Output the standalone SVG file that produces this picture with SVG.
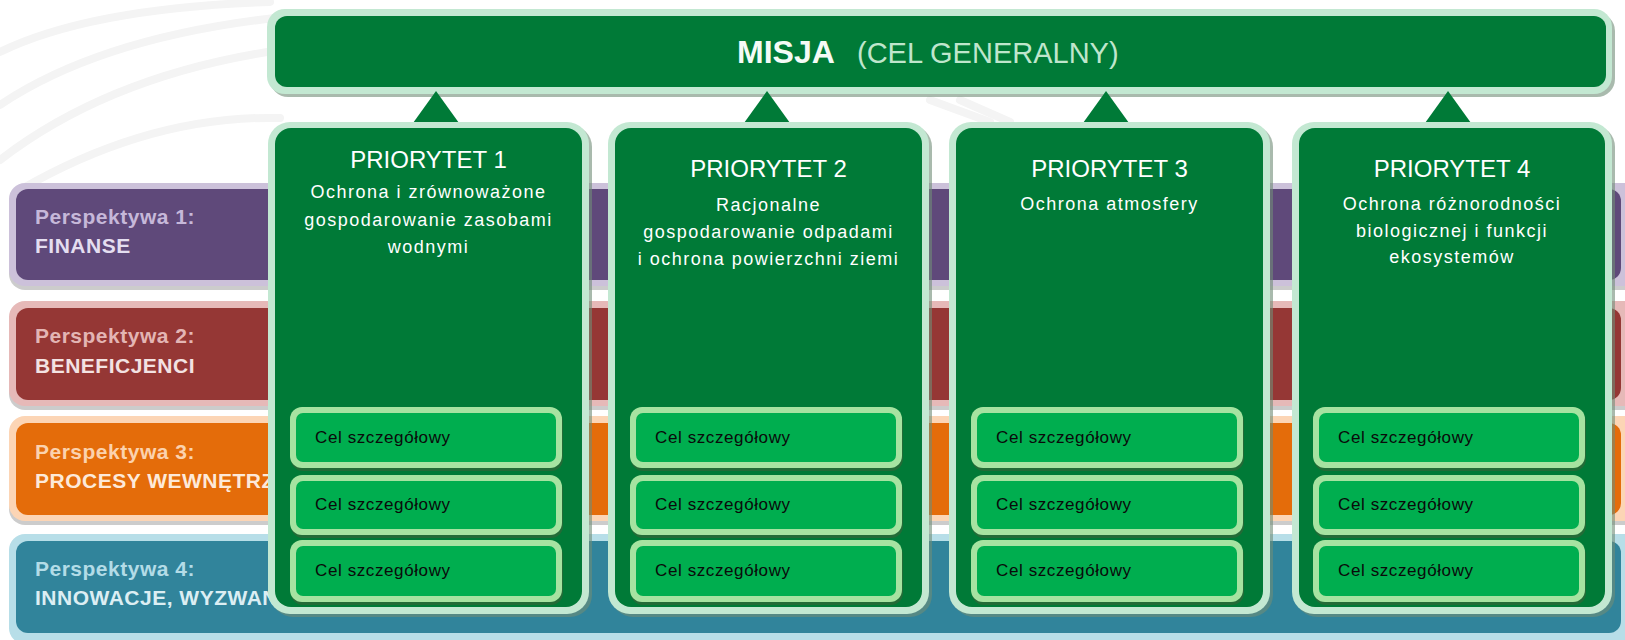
<svg xmlns="http://www.w3.org/2000/svg" width="1625" height="640" viewBox="0 0 1625 640">
<style>
.bg{fill:none;stroke:#f4f4f4;stroke-width:8;stroke-linecap:round}
.shadow{fill:#8f8f8f;opacity:.45}
.pt1{font-family:"Liberation Sans",Arial,sans-serif;font-weight:bold;font-size:21px;letter-spacing:.5px}
.gshadow{fill:#6f8c76;opacity:.6}
.pborder{fill:#c3e8d2}
.pfill{fill:#007a37}
.ptitle{font-family:"Liberation Sans",Arial,sans-serif;font-size:24px;fill:#ffffff;text-anchor:middle}
.psub{font-family:"Liberation Sans",Arial,sans-serif;font-size:18px;letter-spacing:1.5px;fill:#ffffff;text-anchor:middle}
.cshadow{fill:#236b37}
.cborder{fill:#a6e3a1}
.cfill{fill:#00ae4f}
.ctext{font-family:"Liberation Sans",Arial,sans-serif;font-size:17px;letter-spacing:.6px;fill:#0a0a0a}
</style>
<rect x="0" y="0" width="1625" height="640" fill="#ffffff"/>
<g id="background">
<path class="bg" d="M0,52 Q90,8 270,2"/>
<path class="bg" d="M0,105 Q100,38 275,18"/>
<path class="bg" d="M0,160 Q110,75 280,50"/>
<path class="bg" d="M20,190 Q150,115 280,118"/>
<path class="bg" d="M930,100 L990,122"/>
<path class="bg" d="M960,100 L1010,122"/>
</g>

<g id="band1">
<rect class="shadow" x="9" y="187" width="1630" height="103" rx="16"/>
<rect x="9" y="183" width="1630" height="103" rx="16" fill="#ccc1da"/>
<rect x="16" y="189" width="1605" height="91" rx="12" fill="#5f497a"/>
<text class="pt1" x="35" y="224" fill="#c6b8d9">Perspektywa 1:</text>
<text class="pt1" x="35" y="253" fill="#e4def0">FINANSE</text>
</g>
<g id="band2">
<rect class="shadow" x="9" y="305" width="1630" height="105" rx="16"/>
<rect x="9" y="301" width="1630" height="105" rx="16" fill="#e6b9b8"/>
<rect x="16" y="308" width="1605" height="92" rx="12" fill="#953735"/>
<text class="pt1" x="35" y="343" fill="#e3b5b4">Perspektywa 2:</text>
<text class="pt1" x="35" y="373" fill="#f3e2e2">BENEFICJENCI</text>
</g>
<g id="band3">
<rect class="shadow" x="9" y="420" width="1630" height="105" rx="16"/>
<rect x="9" y="416" width="1630" height="105" rx="16" fill="#fcd5b5"/>
<rect x="16" y="423" width="1605" height="92" rx="12" fill="#e46c0a"/>
<text class="pt1" x="35" y="459" fill="#fbd2ae">Perspektywa 3:</text>
<text class="pt1" x="35" y="488" fill="#fde9d9">PROCESY WEWNĘTRZN</text>
</g>
<g id="band4">
<rect x="9" y="534" width="1630" height="110" rx="16" fill="#b7dee8"/>
<rect x="16" y="541" width="1605" height="92" rx="12" fill="#31849b"/>
<text class="pt1" x="35" y="576" fill="#b3dce7">Perspektywa 4:</text>
<text class="pt1" x="35" y="605" fill="#dceef3">INNOWACJE, WYZWAN</text>
</g>

<g id="mission">
<rect class="gshadow" x="270" y="13" width="1345" height="84" rx="18"/>
<rect class="pborder" x="267" y="9" width="1345" height="85" rx="18"/>
<rect class="pfill" x="275" y="16" width="1331" height="71" rx="12"/>
<text x="737" y="63" font-family="Liberation Sans, Arial, sans-serif" font-size="32" font-weight="bold" fill="#f4fbf6">MISJA</text>
<text x="857" y="63" font-family="Liberation Sans, Arial, sans-serif" font-size="29" fill="#bfe6cc">(CEL GENERALNY)</text>
</g>

<g id="connectors">
<polygon class="pfill" points="436,91 413,123 459,123"/>
<polygon class="pfill" points="767,91 744,123 790,123"/>
<polygon class="pfill" points="1106,91 1083,123 1129,123"/>
<polygon class="pfill" points="1448,91 1425,123 1471,123"/>
</g>

<g id="priority1">
<rect class="gshadow" x="271" y="125" width="321" height="492" rx="22"/>
<rect class="pborder" x="268" y="122" width="321" height="492" rx="22"/>
<rect class="pfill" x="275" y="128" width="307" height="479" rx="16"/>
<text class="ptitle" x="428.5" y="168">PRIORYTET 1</text>
<text class="psub" x="428.5" y="198">Ochrona i zrównoważone</text>
<text class="psub" x="428.5" y="225.5">gospodarowanie zasobami</text>
<text class="psub" x="428.5" y="253">wodnymi</text>
<g id="p1c1"><rect class="cshadow" x="291" y="410" width="272" height="61" rx="12"/><rect class="cborder" x="290" y="407" width="272" height="61" rx="12"/><rect class="cfill" x="296" y="413" width="260" height="49" rx="7"/><text class="ctext" x="315" y="442.5">Cel szczegółowy</text></g>
<g id="p1c2"><rect class="cshadow" x="291" y="478" width="272" height="60" rx="12"/><rect class="cborder" x="290" y="475" width="272" height="60" rx="12"/><rect class="cfill" x="296" y="481" width="260" height="48" rx="7"/><text class="ctext" x="315" y="510">Cel szczegółowy</text></g>
<g id="p1c3"><rect class="cshadow" x="291" y="543" width="272" height="62" rx="12"/><rect class="cborder" x="290" y="540" width="272" height="62" rx="12"/><rect class="cfill" x="296" y="546" width="260" height="50" rx="7"/><text class="ctext" x="315" y="576">Cel szczegółowy</text></g>
</g>

<g id="priority2">
<rect class="gshadow" x="611" y="125" width="321" height="492" rx="22"/>
<rect class="pborder" x="608" y="122" width="321" height="492" rx="22"/>
<rect class="pfill" x="615" y="128" width="307" height="479" rx="16"/>
<text class="ptitle" x="768.5" y="177">PRIORYTET 2</text>
<text class="psub" x="768.5" y="211">Racjonalne</text>
<text class="psub" x="768.5" y="238">gospodarowanie odpadami</text>
<text class="psub" x="768.5" y="265">i ochrona powierzchni ziemi</text>
<g id="p2c1"><rect class="cshadow" x="631" y="410" width="272" height="61" rx="12"/><rect class="cborder" x="630" y="407" width="272" height="61" rx="12"/><rect class="cfill" x="636" y="413" width="260" height="49" rx="7"/><text class="ctext" x="655" y="442.5">Cel szczegółowy</text></g>
<g id="p2c2"><rect class="cshadow" x="631" y="478" width="272" height="60" rx="12"/><rect class="cborder" x="630" y="475" width="272" height="60" rx="12"/><rect class="cfill" x="636" y="481" width="260" height="48" rx="7"/><text class="ctext" x="655" y="510">Cel szczegółowy</text></g>
<g id="p2c3"><rect class="cshadow" x="631" y="543" width="272" height="62" rx="12"/><rect class="cborder" x="630" y="540" width="272" height="62" rx="12"/><rect class="cfill" x="636" y="546" width="260" height="50" rx="7"/><text class="ctext" x="655" y="576">Cel szczegółowy</text></g>
</g>

<g id="priority3">
<rect class="gshadow" x="952" y="125" width="321" height="492" rx="22"/>
<rect class="pborder" x="949" y="122" width="321" height="492" rx="22"/>
<rect class="pfill" x="956" y="128" width="307" height="479" rx="16"/>
<text class="ptitle" x="1109.5" y="177">PRIORYTET 3</text>
<text class="psub" x="1109.5" y="210">Ochrona atmosfery</text>
<g id="p3c1"><rect class="cshadow" x="972" y="410" width="272" height="61" rx="12"/><rect class="cborder" x="971" y="407" width="272" height="61" rx="12"/><rect class="cfill" x="977" y="413" width="260" height="49" rx="7"/><text class="ctext" x="996" y="442.5">Cel szczegółowy</text></g>
<g id="p3c2"><rect class="cshadow" x="972" y="478" width="272" height="60" rx="12"/><rect class="cborder" x="971" y="475" width="272" height="60" rx="12"/><rect class="cfill" x="977" y="481" width="260" height="48" rx="7"/><text class="ctext" x="996" y="510">Cel szczegółowy</text></g>
<g id="p3c3"><rect class="cshadow" x="972" y="543" width="272" height="62" rx="12"/><rect class="cborder" x="971" y="540" width="272" height="62" rx="12"/><rect class="cfill" x="977" y="546" width="260" height="50" rx="7"/><text class="ctext" x="996" y="576">Cel szczegółowy</text></g>
</g>

<g id="priority4">
<rect class="gshadow" x="1295" y="125" width="320" height="492" rx="22"/>
<rect class="pborder" x="1292" y="122" width="320" height="492" rx="22"/>
<rect class="pfill" x="1299" y="128" width="306" height="479" rx="16"/>
<text class="ptitle" x="1452" y="177">PRIORYTET 4</text>
<text class="psub" x="1452" y="210">Ochrona różnorodności</text>
<text class="psub" x="1452" y="237">biologicznej i funkcji</text>
<text class="psub" x="1452" y="263">ekosystemów</text>
<g id="p4c1"><rect class="cshadow" x="1314" y="410" width="272" height="61" rx="12"/><rect class="cborder" x="1313" y="407" width="272" height="61" rx="12"/><rect class="cfill" x="1319" y="413" width="260" height="49" rx="7"/><text class="ctext" x="1338" y="442.5">Cel szczegółowy</text></g>
<g id="p4c2"><rect class="cshadow" x="1314" y="478" width="272" height="60" rx="12"/><rect class="cborder" x="1313" y="475" width="272" height="60" rx="12"/><rect class="cfill" x="1319" y="481" width="260" height="48" rx="7"/><text class="ctext" x="1338" y="510">Cel szczegółowy</text></g>
<g id="p4c3"><rect class="cshadow" x="1314" y="543" width="272" height="62" rx="12"/><rect class="cborder" x="1313" y="540" width="272" height="62" rx="12"/><rect class="cfill" x="1319" y="546" width="260" height="50" rx="7"/><text class="ctext" x="1338" y="576">Cel szczegółowy</text></g>
</g>
</svg>
